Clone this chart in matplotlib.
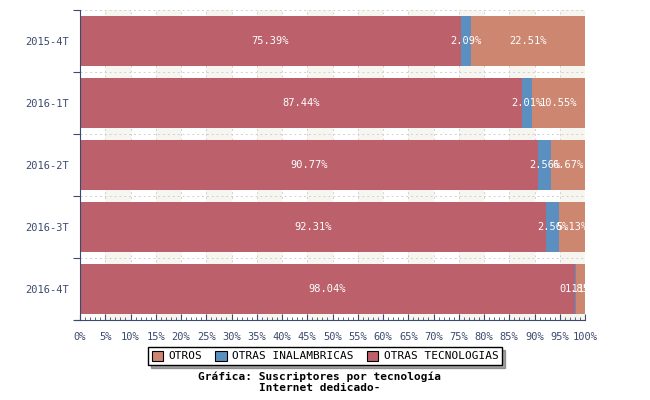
import numpy as np
import matplotlib
matplotlib.use('Agg')
import matplotlib.pyplot as plt
from matplotlib.lines import Line2D
from matplotlib.ticker import MultipleLocator, FixedLocator

periods = ["2015-4T", "2016-1T", "2016-2T", "2016-3T", "2016-4T"]
otras_tecnologias = [75.39, 87.44, 90.77, 92.31, 98.04]
otras_inalambricas = [2.09, 2.01, 2.56, 2.56, 0.11]
otros = [22.51, 10.55, 6.67, 5.13, 1.85]

series_names = ["OTRAS TECNOLOGIAS", "OTRAS INALAMBRICAS", "OTROS"]
colors = ["#bc606b", "#5b8fc0", "#cd8670"]
navy = "#3b4a6e"
mono = "DejaVu Sans Mono"

fig = plt.figure(figsize=(6.5, 4), dpi=100)
ax = fig.add_axes([80 / 650, 1 - 320 / 400, 505 / 650, 310 / 400])

# alternating background bands and dashed grid
for x0 in range(5, 100, 10):
    ax.axvspan(x0, x0 + 5, color="#f7f5ef", zorder=0, lw=0)
for x in range(5, 101, 5):
    ax.axvline(x, color="#d0d0d0", ls=(0, (2, 3)), lw=0.7, zorder=0.5)
for y in np.arange(len(periods) + 1) - 0.5:
    ax.axhline(y, color="#d0d0d0", ls=(0, (2, 3)), lw=0.7, zorder=0.5)

ypos = np.arange(len(periods))
left = np.zeros(len(periods))
for name, vals, c in zip(series_names, [otras_tecnologias, otras_inalambricas, otros], colors):
    vals = np.array(vals)
    ax.barh(ypos, vals, left=left, height=0.82, color=c, zorder=2, label=name)
    for y, l, v in zip(ypos, left, vals):
        ax.text(l + v / 2, y, f"{v:.2f}%", color="white", ha="center", va="center",
                fontsize=7.5, family=mono, zorder=3)
    left += vals

ax.set_xlim(0, 100)
ax.set_ylim(len(periods) - 0.5, -0.5)

# x axis
ax.xaxis.set_major_locator(MultipleLocator(5))
ax.xaxis.set_minor_locator(MultipleLocator(1))
ax.set_xticklabels([f"{int(v)}%" for v in ax.get_xticks()])
ax.tick_params(axis="x", which="major", direction="in", length=4, color=navy, pad=9,
               labelsize=7.5, labelcolor=navy)
ax.tick_params(axis="x", which="minor", direction="in", length=2, color=navy)
for lbl in ax.get_xticklabels():
    lbl.set_family(mono)

# y axis: ticks at category boundaries, labels at centers
ax.yaxis.set_major_locator(FixedLocator(np.arange(len(periods) + 1) - 0.5))
ax.yaxis.set_minor_locator(FixedLocator(ypos))
ax.set_yticklabels([""] * (len(periods) + 1))
ax.set_yticklabels(periods, minor=True)
ax.tick_params(axis="y", which="major", direction="out", length=5, color=navy)
ax.tick_params(axis="y", which="minor", length=0, pad=8, labelsize=7.5, labelcolor=navy)
for lbl in ax.get_yticklabels(minor=True):
    lbl.set_family(mono)

for s in ["top", "right"]:
    ax.spines[s].set_visible(False)
ax.spines["left"].set_color(navy)
ax.spines["bottom"].set_color(navy)
ax.add_line(Line2D([-0.01, 0], [0, 0], transform=ax.transAxes, color=navy, lw=0.8, clip_on=False))

handles, labels = ax.get_legend_handles_labels()
order = [2, 1, 0]
leg = fig.legend([handles[i] for i in order], [labels[i] for i in order], ncol=3,
                 loc="center", bbox_to_anchor=(0.5, 1 - 356 / 400), frameon=True,
                 fancybox=False, shadow=True, edgecolor="black", prop={"family": mono, "size": 8},
                 handlelength=1.0, handleheight=1.0, columnspacing=1.2, borderpad=0.35,
                 handletextpad=0.5, borderaxespad=0)
for h in leg.legend_handles:
    h.set_edgecolor("black")
    h.set_linewidth(0.8)

fig.text(0.492, 1 - 382 / 400, "Gráfica: Suscriptores por tecnología\nInternet dedicado-",
         ha="center", va="center", family=mono, fontweight="bold", fontsize=8, linespacing=1.15)

fig.savefig("out.png", dpi=100)
